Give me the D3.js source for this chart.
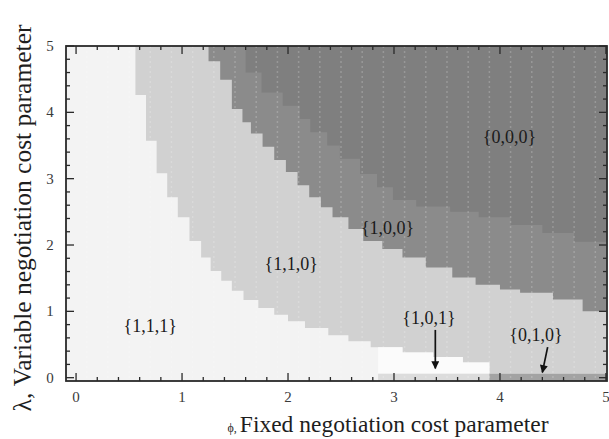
<!DOCTYPE html>
<html>
<head>
<meta charset="utf-8">
<script src="https://cdn.jsdelivr.net/npm/d3@7"></script>
<style>
  body { margin: 0; background: #fff; }
  text { font-family: "Liberation Serif", "DejaVu Serif", serif; }
</style>
</head>
<body>
<svg id="chart" width="609" height="439"></svg>
<script>
// plot range (Mathematica style padding on left / bottom)
const phiMin = -0.095, phiMax = 5.01;
const lamMin = -0.05, lamMax = 5;

const xTicks = [0, 1, 2, 3, 4, 5];
const yTicks = [0, 1, 2, 3, 4, 5];

// upper edge of {1,1,1} / {1,0,1}, i.e. where {1,1,0} starts  [phi, lambda], step after
const edge110 = [
	[-0.095, 5], [0.56, 4.26], [0.66, 3.57], [0.76, 3.08], [0.86, 2.72], [0.96, 2.42],
	[1.07, 2.06], [1.18, 1.81], [1.27, 1.61], [1.37, 1.46], [1.47, 1.31], [1.58, 1.17],
	[1.72, 1.05], [1.87, 0.95], [2.0, 0.85], [2.16, 0.75], [2.38, 0.64], [2.57, 0.55],
	[2.78, 0.46], [3.08, 0.38], [3.37, 0.31], [3.65, 0.23], [3.9, 0.06]
];

// lower edge of {1,0,0}
const edge100 = [
	[1.25, 4.77], [1.36, 4.49], [1.47, 4.05], [1.57, 3.85], [1.65, 3.68], [1.76, 3.48],
	[1.87, 3.28], [1.98, 3.10], [2.09, 2.90], [2.20, 2.72], [2.31, 2.57], [2.42, 2.42],
	[2.57, 2.24], [2.71, 2.06], [2.89, 1.94], [3.08, 1.81], [3.30, 1.66], [3.55, 1.51],
	[3.77, 1.40], [4.0, 1.33], [4.19, 1.28], [4.5, 1.18], [4.78, 1.0]
];

// lower edge of {0,0,0}
const edge000 = [
	[1.6, 4.6], [1.75, 4.3], [1.95, 4.1], [2.11, 3.9], [2.21, 3.7], [2.37, 3.5],
	[2.49, 3.3], [2.68, 3.07], [2.84, 2.87], [2.99, 2.68], [3.21, 2.58], [3.53, 2.5],
	[3.8, 2.42], [4.1, 2.3], [4.4, 2.18], [4.7, 2.05]
];

// {1,0,1} pocket: from its floor up to edge110
const floor101 = 0.06;
const span101 = [2.85, 3.9];

// thin strips along lambda ~ 0
const strips = [
	{ key: 'low', from: 2.85, to: 3.9, lo: -0.05, hi: 0.06 },
	{ key: '010', from: 3.9, to: 5.01, lo: -0.05, hi: 0.06 }
];

const regionLabels = [
	{ text: '{0,0,0}', phi: 4.09, lam: 3.63 },
	{ text: '{1,0,0}', phi: 2.94, lam: 2.26 },
	{ text: '{1,1,0}', phi: 2.03, lam: 1.72 },
	{ text: '{1,1,1}', phi: 0.70, lam: 0.78 },
	{ text: '{1,0,1}', phi: 3.33, lam: 0.90 },
	{ text: '{0,1,0}', phi: 4.34, lam: 0.64 }
];

const arrows = [
	{ from: [3.39, 0.72], to: [3.39, 0.14] },
	{ from: [4.45, 0.46], to: [4.40, 0.08] }
];

const colors = {
	'111': '#f3f3f3', '101': '#fbfbfb', '110': '#d1d1d1',
	'100': '#8b8b8b', '000': '#7f7f7f', '010': '#a3a3a3', low: '#dcdcdc'
};

const padL = 66, padR = 607, padT = 46, padB = 381;

const xScale = d3.scaleLinear().domain([phiMin, phiMax]).range([padL, padR]);
const yScale = d3.scaleLinear().domain([lamMin, lamMax]).range([padB, padT]);

const svg = d3.select('#chart');
const defs = svg.append('defs');

defs.append('clipPath').attr('id', 'plotclip')
	.append('rect')
	.attr('x', padL).attr('y', padT)
	.attr('width', padR - padL).attr('height', padB - padT);

const plot = svg.append('g').attr('clip-path', 'url(#plotclip)');

plot.append('rect')
	.attr('x', padL).attr('y', padT)
	.attr('width', padR - padL).attr('height', padB - padT)
	.attr('fill', colors['111']);

// close a step edge at the right border
const closeEdge = (pts) => pts.concat([[phiMax, pts[pts.length - 1][1]]]);

const upperArea = d3.area()
	.curve(d3.curveStepAfter)
	.x(d => xScale(d[0]))
	.y0(d => yScale(d[1]))
	.y1(yScale(lamMax));

plot.append('path').datum(closeEdge(edge110))
	.attr('fill', colors['110']).attr('d', upperArea);

const pocket = edge110.filter(d => d[0] >= span101[0] - 0.3 && d[0] < span101[1])
	.map(d => [Math.max(d[0], span101[0]), d[1]]);
pocket.push([span101[1], pocket[pocket.length - 1][1]]);

plot.append('path').datum(pocket)
	.attr('fill', colors['101'])
	.attr('d', d3.area()
		.curve(d3.curveStepAfter)
		.x(d => xScale(d[0]))
		.y0(yScale(floor101))
		.y1(d => yScale(d[1])));

plot.append('path').datum(closeEdge(edge100))
	.attr('fill', colors['100']).attr('d', upperArea);

plot.append('path').datum(closeEdge(edge000))
	.attr('fill', colors['000']).attr('d', upperArea);

plot.selectAll('.strip')
	.data(strips)
	.enter()
	.append('rect')
	.attr('class', 'strip')
	.attr('x', d => xScale(d.from))
	.attr('y', d => yScale(d.hi))
	.attr('width', d => xScale(d.to) - xScale(d.from))
	.attr('height', d => yScale(d.lo) - yScale(d.hi))
	.attr('fill', d => colors[d.key]);

// faint dotted mesh columns seen in the scan
plot.selectAll('.mesh')
	.data(d3.range(0.1, 5, 0.2))
	.enter()
	.append('line')
	.attr('class', 'mesh')
	.attr('x1', d => xScale(d)).attr('x2', d => xScale(d))
	.attr('y1', padT).attr('y2', padB)
	.attr('stroke', '#fff')
	.attr('stroke-opacity', 0.2)
	.attr('stroke-width', 1.5)
	.attr('stroke-dasharray', '2,3');

// frame
svg.append('rect')
	.attr('x', padL).attr('y', padT)
	.attr('width', padR - padL).attr('height', padB - padT)
	.attr('fill', 'none').attr('stroke', '#2a2a2a').attr('stroke-width', 1.8);

// inward ticks on all sides
const minorX = d3.range(0, 5.001, 0.2).filter(v => Math.abs(v - Math.round(v)) > 1e-6);
const tickG = svg.append('g').attr('stroke', '#2a2a2a').attr('stroke-width', 1.3);
const addTicks = (vals, len) => {
	vals.forEach(v => {
		const xv = xScale(v), yv = yScale(v);
		tickG.append('line').attr('x1', xv).attr('x2', xv).attr('y1', padB).attr('y2', padB - len);
		tickG.append('line').attr('x1', xv).attr('x2', xv).attr('y1', padT).attr('y2', padT + len);
		tickG.append('line').attr('y1', yv).attr('y2', yv).attr('x1', padL).attr('x2', padL + len);
		tickG.append('line').attr('y1', yv).attr('y2', yv).attr('x1', padR).attr('x2', padR - len);
	});
};
addTicks(xTicks, 8);
addTicks(minorX, 4);

svg.selectAll('.xlab')
	.data(xTicks)
	.enter()
	.append('text')
	.attr('class', 'xlab')
	.attr('x', d => xScale(d))
	.attr('y', 402)
	.attr('text-anchor', 'middle')
	.attr('font-size', 15)
	.attr('fill', '#3a3a3a')
	.text(d => d);

svg.selectAll('.ylab')
	.data(yTicks)
	.enter()
	.append('text')
	.attr('class', 'ylab')
	.attr('x', 50)
	.attr('y', d => yScale(d) + 5)
	.attr('text-anchor', 'middle')
	.attr('font-size', 15)
	.attr('fill', '#3a3a3a')
	.text(d => d);

// region labels
svg.selectAll('.rlab')
	.data(regionLabels)
	.enter()
	.append('text')
	.attr('class', 'rlab')
	.attr('x', d => xScale(d.phi))
	.attr('y', d => yScale(d.lam) + 6)
	.attr('text-anchor', 'middle')
	.attr('font-size', 18)
	.attr('fill', '#1a1a1a')
	.text(d => d.text);

// arrows
const marker = defs.append('marker')
	.attr('id', 'head')
	.attr('viewBox', '0 0 10 10')
	.attr('refX', 9).attr('refY', 5)
	.attr('markerWidth', 11).attr('markerHeight', 8)
	.attr('markerUnits', 'userSpaceOnUse')
	.attr('orient', 'auto');
marker.append('path').attr('d', 'M0,0 L10,5 L0,10 Z').attr('fill', '#111');

svg.selectAll('.arrow')
	.data(arrows)
	.enter()
	.append('line')
	.attr('class', 'arrow')
	.attr('x1', d => xScale(d.from[0]))
	.attr('y1', d => yScale(d.from[1]))
	.attr('x2', d => xScale(d.to[0]))
	.attr('y2', d => yScale(d.to[1]))
	.attr('stroke', '#111')
	.attr('stroke-width', 1.7)
	.attr('marker-end', 'url(#head)');

// axis titles
svg.append('text')
	.attr('transform', 'translate(31,218) rotate(-90)')
	.attr('text-anchor', 'middle')
	.attr('font-size', 25.5)
	.attr('fill', '#1e1e1e')
	.text('λ, Variable negotiation cost parameter');

const xTitle = svg.append('text')
	.attr('x', 388)
	.attr('y', 432)
	.attr('text-anchor', 'middle')
	.attr('fill', '#1e1e1e');
xTitle.append('tspan').attr('font-size', 12).text('ϕ, ');
xTitle.append('tspan').attr('font-size', 23.5).text('Fixed negotiation cost parameter');
</script>
</body>
</html>
